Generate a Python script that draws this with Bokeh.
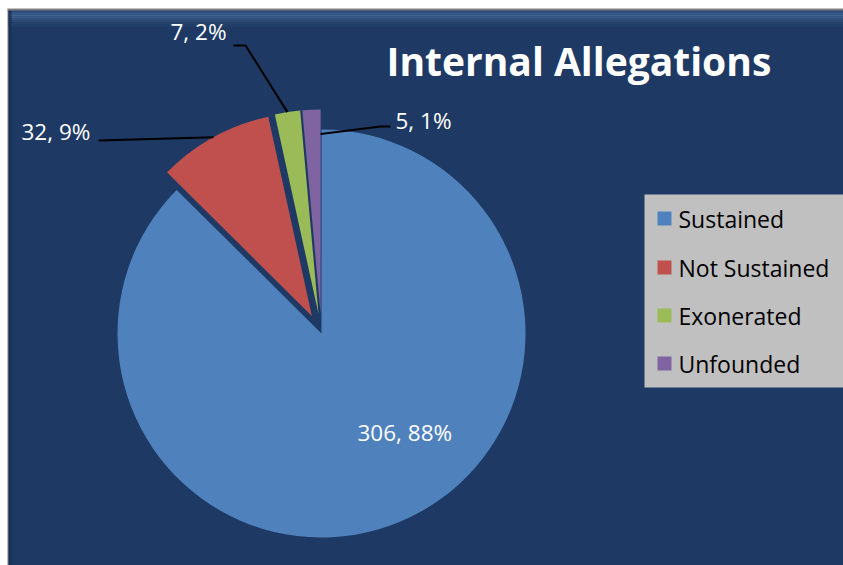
import math
from bokeh.plotting import figure
from bokeh.models import Range1d
from bokeh.core.properties import value
from bokeh.embed import file_html
from bokeh.resources import INLINE

# ---- data ----
categories = ["Sustained", "Not Sustained", "Exonerated", "Unfounded"]
counts = [306, 32, 7, 5]
percent_labels = ["88%", "9%", "2%", "1%"]
colors = ["#4F81BD", "#C0504D", "#9BBB59", "#8064A2"]
title_text = "Internal Allegations"

# ---- layout / style ----
BG = "#1E3A64"
W, H = 843, 565
OX, OY = 0, 565


def X(px):
    return px - OX


def Y(py):
    return OY - py


FONT = value("Open Sans")

p = figure(width=W, height=H, x_range=Range1d(0, W), y_range=Range1d(0, H),
           output_backend="svg", toolbar_location=None, min_border=0,
           x_axis_location=None, y_axis_location=None)
p.grid.visible = False
p.outline_line_color = None
p.background_fill_color = "white"
p.border_fill_color = "white"

# chart area background
p.quad(left=X(8), right=W, top=Y(9), bottom=0, fill_color=BG, line_color=None)

# frame bevel (top light band, left dark band, grey border)
top_band = ["#2C4B78", "#385A88", "#3F6290", "#3A5C8A", "#33527E", "#2C4A75", "#26436D", "#214069"]
for i, c in enumerate(top_band):
    p.quad(left=X(8), right=W, top=Y(10 + i * 2), bottom=Y(12 + i * 2), fill_color=c, line_color=None)
left_band = ["#808080", "#12264A", "#162D52", "#1A335A"]
for i, c in enumerate(left_band):
    p.quad(left=X(7 + i), right=X(8 + i), top=Y(9), bottom=0, fill_color=c, line_color=None)
p.quad(left=X(7), right=W, top=Y(8), bottom=Y(10), fill_color="#808080", line_color=None)

# ---- pie ----
cx, cy, R = X(321), Y(333), 204
explode = [0, 20, 20, 20]
total = sum(counts)
cum = 0
geo = []
for i, c in enumerate(counts):
    th1 = 2 * math.pi * cum / total
    th2 = 2 * math.pi * (cum + c) / total
    cum += c
    mid = (th1 + th2) / 2
    ox = cx + explode[i] * math.sin(mid)
    oy = cy + explode[i] * math.cos(mid)
    geo.append((ox, oy, th1, th2))
    p.wedge(x=ox, y=oy, radius=R, start_angle=math.pi / 2 - th1, end_angle=math.pi / 2 - th2,
            direction="clock", fill_color=colors[i], line_color=None)

# ---- data labels with leader lines ----
label_pos = [(357, 432), (21, 131), (170, 31), (395, 120)]
leader_pts = [None, [(98, 140)], [(233, 45), (245, 45)], [(390, 126), (380, 126)]]
anchor = [None, (0.5, 1.0), (0.5, 1.0), (1.0, 0.88)]
for i in range(len(counts)):
    if leader_pts[i] is not None:
        ox, oy, th1, th2 = geo[i]
        fa, fr = anchor[i]
        th = th1 + (th2 - th1) * fa
        ax = ox + R * fr * math.sin(th)
        ay = oy + R * fr * math.cos(th)
        xs = [X(a) for a, b in leader_pts[i]] + [ax]
        ys = [Y(b) for a, b in leader_pts[i]] + [ay]
        p.line(xs, ys, line_color="black", line_width=2)
    lx, ly = label_pos[i]
    p.text(x=[X(lx)], y=[Y(ly)], text=[f"{counts[i]}, {percent_labels[i]}"],
           text_font=FONT, text_font_size="22.5px", text_color="white",
           text_align="left", text_baseline="middle")

# ---- title ----
p.text(x=[X(386)], y=[Y(60)], text=[title_text], text_font=FONT, text_font_size="39px",
       text_font_style="bold", text_color="white", text_align="left", text_baseline="middle")

# ---- legend (manual) ----
p.quad(left=X(644), right=W, top=Y(194), bottom=Y(387), fill_color="#C0C0C0", line_color=None)
leg_y = [218, 267, 315, 363]
for i, name in enumerate(categories):
    yc = Y(leg_y[i])
    p.quad(left=X(657), right=X(671), top=yc + 7, bottom=yc - 7, fill_color=colors[i], line_color=None)
    p.text(x=[X(678)], y=[yc], text=[name], text_font=FONT, text_font_size="23px",
           text_color="black", text_align="left", text_baseline="middle")

open("out.html", "w").write(file_html(p, INLINE))
